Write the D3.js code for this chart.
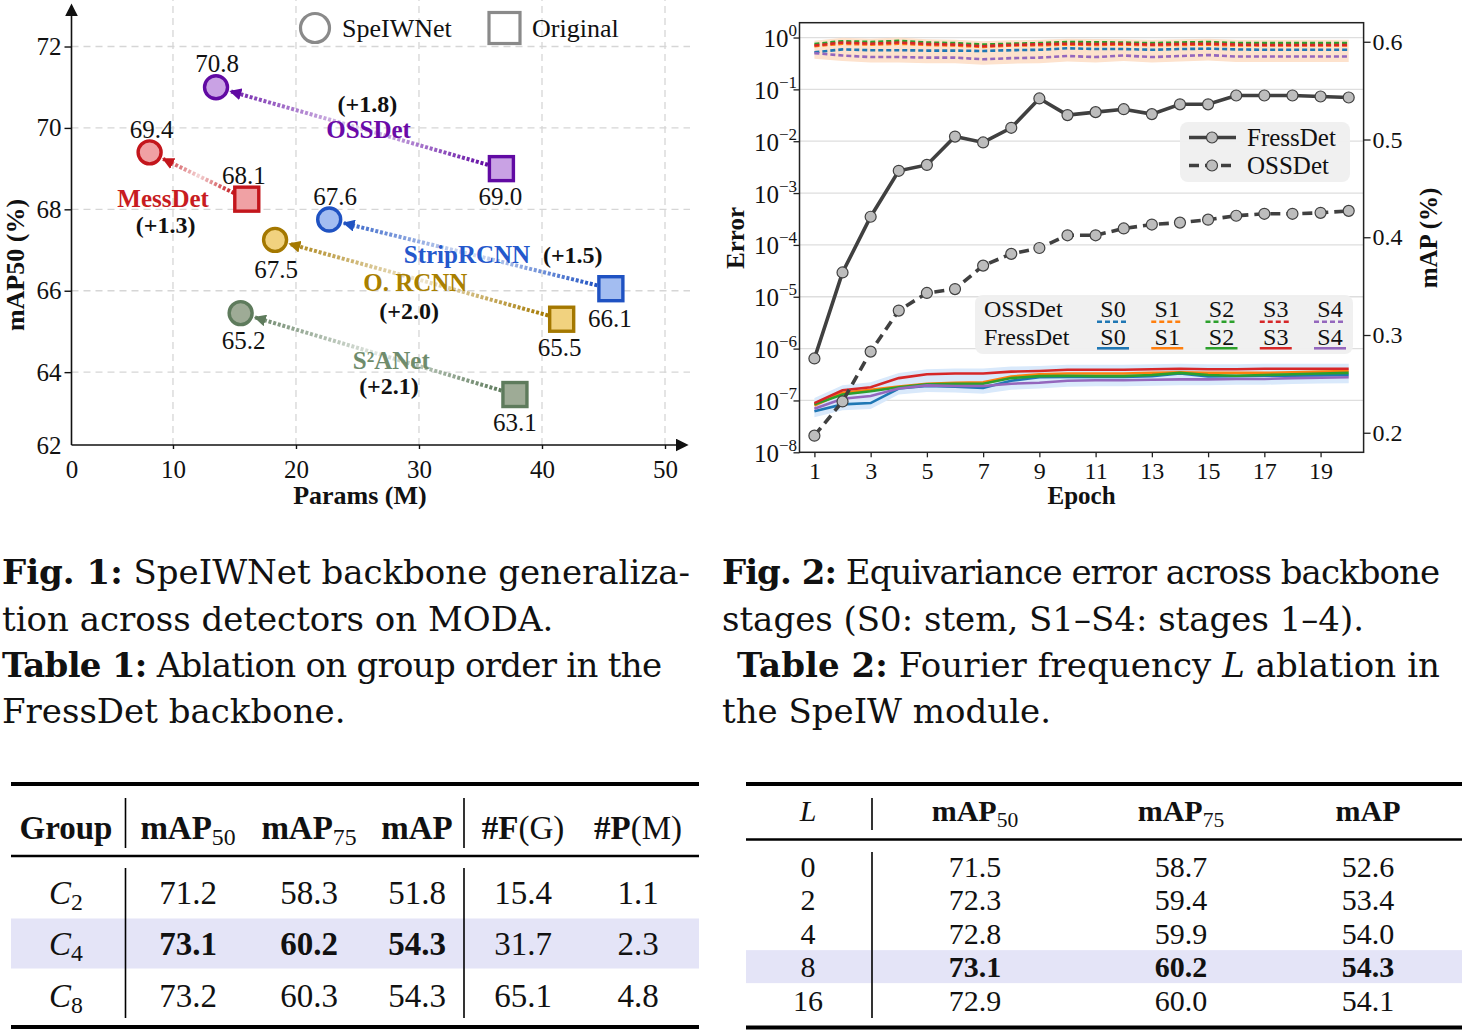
<!DOCTYPE html>
<html>
<head>
<meta charset="utf-8">
<script src="https://cdn.jsdelivr.net/npm/d3@7"></script>
<style>
  body { margin: 0; background: #fff; }
  svg text { font-family: "Liberation Serif", "Times New Roman", serif; fill: #111; }
</style>
</head>
<body>
<svg id="fig" width="1462" height="1031"></svg>
<script>
// ---------- Fig. 1 data
const detectors   = ["OSSDet", "MessDet", "StripRCNN", "O. RCNN", "S²ANet"];
const origParams  = [36.7, 16.0, 45.6, 41.6, 37.8];
const origMap     = [69.0, 68.25, 66.05, 65.3, 63.45];
const speiwParams = [13.5, 8.1, 22.7, 18.3, 15.5];
const speiwMap    = [71.0, 69.4, 67.75, 67.25, 65.45];
const origLabels  = ["69.0", "68.1", "66.1", "65.5", "63.1"];
const speiwLabels = ["70.8", "69.4", "67.6", "67.5", "65.2"];
const gains       = ["(+1.8)", "(+1.3)", "(+1.5)", "(+2.0)", "(+2.1)"];
const paramTicks  = [10, 20, 30, 40, 50];
const mapTicks    = [64, 66, 68, 70, 72];

// ---------- Fig. 2 data
const epochs = [1, 2, 3, 4, 5, 6, 7, 8, 9, 10, 11, 12, 13, 14, 15, 16, 17, 18, 19, 20];
const epochTicks = [1, 3, 5, 7, 9, 11, 13, 15, 17, 19];
const stages = ["S0", "S1", "S2", "S3", "S4"];
const ossErrS0 = [0.52, 0.59, 0.57, 0.57, 0.56, 0.56, 0.55, 0.57, 0.58, 0.62, 0.60, 0.60, 0.58, 0.60, 0.61, 0.59, 0.58, 0.58, 0.58, 0.58];
const ossErrS1 = [0.68, 0.76, 0.73, 0.76, 0.72, 0.70, 0.66, 0.70, 0.71, 0.73, 0.72, 0.73, 0.71, 0.72, 0.73, 0.70, 0.70, 0.70, 0.70, 0.70];
const ossErrS2 = [0.75, 0.85, 0.82, 0.86, 0.80, 0.78, 0.73, 0.76, 0.78, 0.82, 0.81, 0.80, 0.78, 0.80, 0.82, 0.78, 0.78, 0.78, 0.78, 0.78];
const ossErrS3 = [0.70, 0.80, 0.76, 0.80, 0.75, 0.73, 0.68, 0.72, 0.74, 0.76, 0.75, 0.76, 0.73, 0.75, 0.76, 0.73, 0.72, 0.72, 0.72, 0.72];
const ossErrS4 = [0.50, 0.45, 0.42, 0.42, 0.41, 0.41, 0.38, 0.40, 0.41, 0.44, 0.42, 0.45, 0.42, 0.44, 0.46, 0.43, 0.43, 0.43, 0.43, 0.43];
const fressErrS0 = [6.2e-8, 8.4e-8, 8.9e-8, 1.7e-7, 1.9e-7, 1.85e-7, 1.75e-7, 2.4e-7, 2.8e-7, 2.85e-7, 2.85e-7, 2.85e-7, 2.95e-7, 3.3e-7, 2.9e-7, 2.95e-7, 3.0e-7, 3.0e-7, 3.05e-7, 3.1e-7];
const fressErrS1 = [8.0e-8, 1.4e-7, 1.6e-7, 1.85e-7, 2.1e-7, 2.2e-7, 2.25e-7, 2.9e-7, 3.2e-7, 3.3e-7, 3.3e-7, 3.3e-7, 3.4e-7, 3.5e-7, 3.4e-7, 3.4e-7, 3.4e-7, 3.5e-7, 3.6e-7, 3.7e-7];
const fressErrS2 = [8.4e-8, 1.3e-7, 1.5e-7, 1.8e-7, 2.05e-7, 2.1e-7, 2.1e-7, 2.7e-7, 2.95e-7, 3.0e-7, 2.95e-7, 2.95e-7, 3.1e-7, 3.4e-7, 3.1e-7, 3.0e-7, 3.1e-7, 3.2e-7, 3.3e-7, 3.4e-7];
const fressErrS3 = [8.9e-8, 1.57e-7, 1.8e-7, 2.7e-7, 3.2e-7, 3.3e-7, 3.3e-7, 3.6e-7, 3.7e-7, 3.9e-7, 3.9e-7, 3.9e-7, 4.0e-7, 4.1e-7, 4.0e-7, 4.0e-7, 4.1e-7, 4.1e-7, 4.1e-7, 4.1e-7];
const fressErrS4 = [6.9e-8, 1.08e-7, 1.22e-7, 1.7e-7, 1.95e-7, 1.9e-7, 1.9e-7, 2.1e-7, 2.2e-7, 2.4e-7, 2.45e-7, 2.45e-7, 2.5e-7, 2.55e-7, 2.55e-7, 2.6e-7, 2.6e-7, 2.7e-7, 2.75e-7, 2.8e-7];
const fressMap = [0.276, 0.364, 0.421, 0.468, 0.474, 0.503, 0.497, 0.512, 0.542, 0.525, 0.528, 0.531, 0.526, 0.536, 0.536, 0.545, 0.545, 0.545, 0.544, 0.543];
const ossMap   = [0.197, 0.232, 0.283, 0.325, 0.343, 0.347, 0.371, 0.383, 0.389, 0.402, 0.402, 0.409, 0.413, 0.415, 0.418, 0.422, 0.424, 0.424, 0.425, 0.427];
const errExponents = [0, -1, -2, -3, -4, -5, -6, -7, -8];
const mapTicks2 = [0.2, 0.3, 0.4, 0.5, 0.6];

// ---------- Tables
const t1Groups = ["2", "4", "8"];
const t1Map50  = ["71.2", "73.1", "73.2"];
const t1Map75  = ["58.3", "60.2", "60.3"];
const t1Map    = ["51.8", "54.3", "54.3"];
const t1Flops  = ["15.4", "31.7", "65.1"];
const t1Params = ["1.1", "2.3", "4.8"];
const t1Best = 1;
const t2L      = ["0", "2", "4", "8", "16"];
const t2Map50  = ["71.5", "72.3", "72.8", "73.1", "72.9"];
const t2Map75  = ["58.7", "59.4", "59.9", "60.2", "60.0"];
const t2Map    = ["52.6", "53.4", "54.0", "54.3", "54.1"];
const t2Best = 3;

// ---------- styles / layout
const detStroke = ["#610aa3", "#c3161c", "#1f52c2", "#a47800", "#5e7b5c"];
const detFill   = ["#c9a2e4", "#f0a1a4", "#a3bdf1", "#f1d27f", "#9eab96"];
const detText   = ["#6a0aa8", "#c81c22", "#2458cc", "#a98000", "#6f8c6c"];
const stageCol  = ["#1f77b4", "#ff7f0e", "#2ca02c", "#d62728", "#9467bd"];

const svg = d3.select("#fig");
const defs = svg.append("defs");

// ===================== Fig. 1 =====================
const f1 = svg.append("g");
const x1 = d3.scaleLinear().domain([1.75, 50]).range([71.5, 665]);
const y1 = d3.scaleLinear().domain([62.21, 73.02]).range([445, 5]);

f1.selectAll("line.vg").data(paramTicks).join("line").attr("class", "vg")
  .attr("x1", d => x1(d)).attr("x2", d => x1(d)).attr("y1", y1(62.21)).attr("y2", 0)
  .attr("stroke", "#d6d6d6").attr("stroke-width", 1.3).attr("stroke-dasharray", "7,5");
f1.selectAll("line.hg").data(mapTicks).join("line").attr("class", "hg")
  .attr("x1", x1(1.75)).attr("x2", 690).attr("y1", d => y1(d)).attr("y2", d => y1(d))
  .attr("stroke", "#d6d6d6").attr("stroke-width", 1.3).attr("stroke-dasharray", "7,5");

defs.append("marker").attr("id", "axArrow").attr("viewBox", "0 0 10 10")
  .attr("refX", 8).attr("refY", 5).attr("markerWidth", 13).attr("markerHeight", 13)
  .attr("markerUnits", "userSpaceOnUse").attr("orient", "auto")
  .append("path").attr("d", "M0,0 L10,5 L0,10 z").attr("fill", "#111");

f1.append("line").attr("x1", x1(1.75)).attr("y1", y1(62.21)).attr("x2", x1(1.75)).attr("y2", 6)
  .attr("stroke", "#111").attr("stroke-width", 1.6).attr("marker-end", "url(#axArrow)");
f1.append("line").attr("x1", x1(1.75)).attr("y1", y1(62.21)).attr("x2", 686).attr("y2", y1(62.21))
  .attr("stroke", "#111").attr("stroke-width", 1.6).attr("marker-end", "url(#axArrow)");

const ax1 = f1.append("g").attr("transform", `translate(0,${y1(62.21)})`)
  .call(d3.axisBottom(x1).tickValues([1.75].concat(paramTicks)).tickSize(4).tickPadding(11)
    .tickFormat(d => d === 1.75 ? "0" : d));
const ay1 = f1.append("g").attr("transform", `translate(${x1(1.75)},0)`)
  .call(d3.axisLeft(y1).tickValues(mapTicks.concat([62.21])).tickSize(7).tickPadding(3)
    .tickFormat(d => d === 62.21 ? "62" : d));
[ax1, ay1].forEach(a => {
  a.select(".domain").remove();
  a.selectAll("line").attr("stroke", "#111").attr("stroke-width", 1.4);
  a.selectAll("text").attr("font-size", 25).attr("font-family", "Liberation Serif").attr("fill", "#111");
});
ay1.selectAll(".tick").filter(d => d === 62.21).select("line").remove();
ax1.selectAll(".tick").filter(d => d === 1.75).select("line").remove();

f1.append("text").attr("x", x1(25.2)).attr("y", 495).attr("dy", "0.35em")
  .attr("text-anchor", "middle").attr("font-size", 26).attr("font-weight", "bold").text("Params (M)");
f1.append("text").attr("transform", `translate(15,${265}) rotate(-90)`).attr("dy", "0.35em")
  .attr("text-anchor", "middle").attr("font-size", 26).attr("font-weight", "bold").text("mAP50 (%)");

// arrows from Original to SpeIWNet
detectors.forEach((d, i) => {
  const sx = x1(origParams[i]), sy = y1(origMap[i]);
  const cx = x1(speiwParams[i]), cy = y1(speiwMap[i]);
  const len = Math.hypot(cx - sx, cy - sy);
  const ux = (cx - sx) / len, uy = (cy - sy) / len;
  const ax = sx + ux * 14, ay = sy + uy * 14, bx = cx - ux * 15, by = cy - uy * 15;
  const g = defs.append("linearGradient").attr("id", "grad" + i)
    .attr("gradientUnits", "userSpaceOnUse")
    .attr("x1", ax).attr("y1", ay).attr("x2", bx).attr("y2", by);
  g.append("stop").attr("offset", 0).attr("stop-color", detStroke[i]);
  g.append("stop").attr("offset", 0.5).attr("stop-color", d3.interpolateRgb(detStroke[i], "#fff")(0.82));
  g.append("stop").attr("offset", 1).attr("stop-color", d3.interpolateRgb(detStroke[i], "#fff")(0.1));
  defs.append("marker").attr("id", "arr" + i).attr("viewBox", "0 0 10 10")
    .attr("refX", 9).attr("refY", 5).attr("markerWidth", 12).attr("markerHeight", 12)
    .attr("markerUnits", "userSpaceOnUse").attr("orient", "auto")
    .append("path").attr("d", "M0,0 L10,5 L0,10 z").attr("fill", detStroke[i]);
  f1.append("line").attr("x1", ax).attr("y1", ay).attr("x2", bx).attr("y2", by)
    .attr("stroke", `url(#grad${i})`).attr("stroke-width", 4).attr("stroke-dasharray", "3,1.8")
    .attr("marker-end", `url(#arr${i})`);
});

f1.selectAll("rect.orig").data(detectors).join("rect").attr("class", "orig")
  .attr("x", (d, i) => x1(origParams[i]) - 12).attr("y", (d, i) => y1(origMap[i]) - 12)
  .attr("width", 24).attr("height", 24)
  .attr("fill", (d, i) => detFill[i]).attr("stroke", (d, i) => detStroke[i]).attr("stroke-width", 3.4);
f1.selectAll("circle.sp").data(detectors).join("circle").attr("class", "sp")
  .attr("cx", (d, i) => x1(speiwParams[i])).attr("cy", (d, i) => y1(speiwMap[i])).attr("r", 11.5)
  .attr("fill", (d, i) => detFill[i]).attr("stroke", (d, i) => detStroke[i]).attr("stroke-width", 3.4);

// value labels (offset in px relative to markers)
const spOff = [[1, -24], [2, -23], [6, -23], [1, 29], [3, 27]];
const orOff = [[-1, 28], [-3, -24], [-1, 30], [-2, 28], [0, 28]];
f1.selectAll("text.spl").data(speiwLabels).join("text").attr("class", "spl")
  .attr("x", (d, i) => x1(speiwParams[i]) + spOff[i][0]).attr("y", (d, i) => y1(speiwMap[i]) + spOff[i][1])
  .attr("dy", "0.35em").attr("text-anchor", "middle").attr("font-size", 25).text(d => d);
f1.selectAll("text.orl").data(origLabels).join("text").attr("class", "orl")
  .attr("x", (d, i) => x1(origParams[i]) + orOff[i][0]).attr("y", (d, i) => y1(origMap[i]) + orOff[i][1])
  .attr("dy", "0.35em").attr("text-anchor", "middle").attr("font-size", 25).text(d => d);

// detector names and gains, placed in data units
const namePos = [[25.9, 69.97], [9.2, 68.28], [33.9, 66.9], [29.7, 66.2], [27.75, 64.29]];
const gainPos = [[25.8, 70.6], [9.4, 67.63], [42.5, 66.9], [29.2, 65.52], [27.56, 63.66]];
f1.selectAll("text.nm").data(detectors).join("text").attr("class", "nm")
  .attr("x", (d, i) => x1(namePos[i][0])).attr("y", (d, i) => y1(namePos[i][1])).attr("dy", "0.35em")
  .attr("text-anchor", "middle").attr("font-size", 25).attr("font-weight", "bold")
  .style("fill", (d, i) => detText[i]).text(d => d);
f1.selectAll("text.gn").data(gains).join("text").attr("class", "gn")
  .attr("x", (d, i) => x1(gainPos[i][0])).attr("y", (d, i) => y1(gainPos[i][1])).attr("dy", "0.35em")
  .attr("text-anchor", "middle").attr("font-size", 24).attr("font-weight", "bold").text(d => d);

// legend
f1.append("circle").attr("cx", 315).attr("cy", 28).attr("r", 14.5)
  .attr("fill", "#fff").attr("stroke", "#8a8a8a").attr("stroke-width", 3.2);
f1.append("text").attr("x", 342).attr("y", 28).attr("dy", "0.35em").attr("font-size", 26).text("SpeIWNet");
f1.append("rect").attr("x", 489).attr("y", 12.5).attr("width", 31).attr("height", 31)
  .attr("fill", "#fff").attr("stroke", "#8a8a8a").attr("stroke-width", 3.2);
f1.append("text").attr("x", 532).attr("y", 28).attr("dy", "0.35em").attr("font-size", 26).text("Original");

// ===================== Fig. 2 =====================
const f2 = svg.append("g");
const x2 = d3.scaleLinear().domain([0.47, 20.53]).range([799.5, 1363.6]);
const yE = d3.scaleLog().domain([1e-8, Math.pow(10, 0.286)]).range([452.3, 22.7]);
const yM = d3.scaleLinear().domain([0.18, 0.6195]).range([452.3, 22.7]);

f2.selectAll("line.eg").data(errExponents.slice(0, 8)).join("line").attr("class", "eg")
  .attr("x1", x2.range()[0]).attr("x2", x2.range()[1])
  .attr("y1", d => yE(Math.pow(10, d))).attr("y2", d => yE(Math.pow(10, d)))
  .attr("stroke", "#dedede").attr("stroke-width", 1.3);

const ossSeries = [ossErrS0, ossErrS1, ossErrS2, ossErrS3, ossErrS4];
const fressSeries = [fressErrS0, fressErrS1, fressErrS2, fressErrS3, fressErrS4];

const band = d3.area().x(d => x2(d.e)).y0(d => yE(d.lo)).y1(d => yE(d.hi));
f2.append("path")
  .datum(epochs.map((e, i) => ({ e, lo: d3.min(ossSeries, s => s[i]) / 1.28, hi: d3.max(ossSeries, s => s[i]) * 1.16 })))
  .attr("d", band).attr("fill", "#fde2cd");
f2.append("path")
  .datum(epochs.map((e, i) => ({ e, lo: d3.min(fressSeries, s => s[i]) / 1.3, hi: d3.max(fressSeries, s => s[i]) * 1.25 })))
  .attr("d", band).attr("fill", "#d9e9fb");

const errLine = d3.line().x((d, i) => x2(epochs[i])).y(d => yE(d));
fressSeries.forEach((s, k) => {
  f2.append("path").datum(s).attr("d", errLine).attr("fill", "none")
    .attr("stroke", stageCol[k]).attr("stroke-width", 2.6);
});
ossSeries.forEach((s, k) => {
  f2.append("path").datum(s).attr("d", errLine).attr("fill", "none")
    .attr("stroke", stageCol[k]).attr("stroke-width", 2.6).attr("stroke-dasharray", "5,3");
});

const mapLine = d3.line().x((d, i) => x2(epochs[i])).y(d => yM(d));
[[fressMap, null], [ossMap, "10,6"]].forEach(([s, dash]) => {
  f2.append("path").datum(s).attr("d", mapLine).attr("fill", "none")
    .attr("stroke", "#404040").attr("stroke-width", 3.6).attr("stroke-dasharray", dash);
  f2.append("g").selectAll("circle").data(s).join("circle")
    .attr("cx", (d, i) => x2(epochs[i])).attr("cy", d => yM(d)).attr("r", 5.5)
    .attr("fill", "#bdbdbd").attr("stroke", "#404040").attr("stroke-width", 1.2);
});

// frame
f2.append("rect").attr("x", x2.range()[0]).attr("y", 22.7)
  .attr("width", x2.range()[1] - x2.range()[0]).attr("height", 452.3 - 22.7)
  .attr("fill", "none").attr("stroke", "#222").attr("stroke-width", 1.5);

// axes
const axB = f2.append("g").attr("transform", "translate(0,452.3)")
  .call(d3.axisBottom(x2).tickValues(epochTicks).tickSize(5).tickPadding(5));
const axR = f2.append("g").attr("transform", `translate(${x2.range()[1]},0)`)
  .call(d3.axisRight(yM).tickValues(mapTicks2).tickSize(7).tickPadding(2).tickFormat(d3.format(".1f")));
const axL = f2.append("g").attr("transform", `translate(${x2.range()[0]},0)`)
  .call(d3.axisLeft(yE).tickValues(errExponents.map(e => Math.pow(10, e))).tickSize(6).tickFormat(""));
[axB, axR, axL].forEach(a => {
  a.select(".domain").remove();
  a.selectAll("line").attr("stroke", "#222").attr("stroke-width", 1.3);
  a.selectAll("text").attr("font-size", 24).attr("font-family", "Liberation Serif").attr("fill", "#111");
});
const errLab = f2.selectAll("text.el").data(errExponents).join("text").attr("class", "el")
  .attr("x", 797).attr("y", d => yE(Math.pow(10, d)) + 9.5).attr("text-anchor", "end").attr("font-size", 25);
errLab.append("tspan").text("10");
errLab.append("tspan").attr("dy", -11).attr("font-size", 17).text(d => d === 0 ? "0" : "−" + (-d));

f2.append("text").attr("transform", "translate(735,238) rotate(-90)").attr("dy", "0.35em")
  .attr("text-anchor", "middle").attr("font-size", 25).attr("font-weight", "bold").text("Error");
f2.append("text").attr("transform", "translate(1428,238) rotate(-90)").attr("dy", "0.35em")
  .attr("text-anchor", "middle").attr("font-size", 25).attr("font-weight", "bold").text("mAP (%)");
f2.append("text").attr("x", x2(10.5)).attr("y", 495).attr("dy", "0.35em")
  .attr("text-anchor", "middle").attr("font-size", 25).attr("font-weight", "bold").text("Epoch");

// upper legend
f2.append("rect").attr("x", 1180).attr("y", 122).attr("width", 170).attr("height", 60).attr("rx", 8)
  .attr("fill", "#efefef").attr("fill-opacity", 0.95);
[["FressDet", null, 137.5], ["OSSDet", "10,6", 165.5]].forEach(([name, dash, yy]) => {
  f2.append("line").attr("x1", 1189).attr("x2", 1236).attr("y1", yy).attr("y2", yy)
    .attr("stroke", "#404040").attr("stroke-width", 3.6).attr("stroke-dasharray", dash);
  f2.append("circle").attr("cx", 1212).attr("cy", yy).attr("r", 5.5)
    .attr("fill", "#bdbdbd").attr("stroke", "#404040").attr("stroke-width", 1.2);
  f2.append("text").attr("x", 1247).attr("y", yy).attr("dy", "0.35em").attr("font-size", 25).text(name);
});

// lower legend
f2.append("rect").attr("x", 975).attr("y", 295).attr("width", 378).attr("height", 59).attr("rx", 8)
  .attr("fill", "#efefef").attr("fill-opacity", 0.95);
const stageX = d3.scalePoint().domain(stages).range([1113, 1330]);
[["OSSDet", "5,3", 308.5, 321.7], ["FressDet", null, 336.5, 348.3]].forEach(([name, dash, ty, ly]) => {
  f2.append("text").attr("x", 984).attr("y", ty).attr("dy", "0.35em").attr("font-size", 24).text(name);
  stages.forEach((s, k) => {
    f2.append("text").attr("x", stageX(s)).attr("y", ty).attr("dy", "0.35em")
      .attr("text-anchor", "middle").attr("font-size", 24).text(s);
    f2.append("line").attr("x1", stageX(s) - 16).attr("x2", stageX(s) + 16).attr("y1", ly).attr("y2", ly)
      .attr("stroke", stageCol[k]).attr("stroke-width", 2.6).attr("stroke-dasharray", dash);
  });
});

// ===================== Captions =====================
// w: justified width for full lines, null for the last line of a paragraph
const capLines = [
  { x: 2, y: 584, w: 688, parts: [["Fig. 1:", "b"], [" SpeIWNet backbone generaliza-"]] },
  { x: 2, y: 631, w: null, parts: [["tion across detectors on MODA."]] },
  { x: 2, y: 677, w: 660, parts: [["Table 1:", "b"], [" Ablation on group order in the"]] },
  { x: 2, y: 723, w: null, parts: [["FressDet backbone."]] },
  { x: 722, y: 584, w: 718, parts: [["Fig. 2:", "b"], [" Equivariance error across backbone"]] },
  { x: 722, y: 631, w: null, parts: [["stages (S0: stem, S1–S4: stages 1–4)."]] },
  { x: 737, y: 677, w: 703, parts: [["Table 2:", "b"], [" Fourier frequency "], ["L", "i"], [" ablation in"]] },
  { x: 722, y: 723, w: null, parts: [["the SpeIW module."]] }
];
capLines.forEach(c => {
  const t = svg.append("text").attr("x", c.x).attr("y", c.y)
    .attr("font-size", 34).style("font-family", "'DejaVu Serif', serif")
    .attr("xml:space", "preserve");
  if (c.w) t.attr("textLength", c.w).attr("lengthAdjust", "spacing");
  c.parts.forEach(p => {
    const s = t.append("tspan").text(p[0]);
    if (p[1] === "b") s.attr("font-weight", "bold");
    if (p[1] === "i") s.attr("font-style", "italic");
  });
});

// ===================== Table 1 =====================
const tb1 = svg.append("g");
const t1Cols = ["g", "m50", "m75", "m", "f", "p"];
const t1X = d3.scaleOrdinal().domain(t1Cols).range([66, 188, 309, 417, 523, 638]);
const t1Y = d3.scalePoint().domain(t1Groups).range([892, 995]);

tb1.append("rect").attr("x", 11).attr("width", 688).attr("y", t1Y(t1Groups[t1Best]) - 25).attr("height", 50)
  .attr("fill", "#e4e4f7");
[[784, 4], [856, 2.4], [1027, 4]].forEach(([yy, w]) =>
  tb1.append("line").attr("x1", 11).attr("x2", 699).attr("y1", yy).attr("y2", yy)
    .attr("stroke", "#000").attr("stroke-width", w));
[125.5, 464].forEach(xx => {
  tb1.append("line").attr("x1", xx).attr("x2", xx).attr("y1", 798).attr("y2", 848).attr("stroke", "#000").attr("stroke-width", 1.6);
  tb1.append("line").attr("x1", xx).attr("x2", xx).attr("y1", 868).attr("y2", 1018).attr("stroke", "#000").attr("stroke-width", 1.6);
});

function cell(g, x, y, size, parts) {
  const t = g.append("text").attr("x", x).attr("y", y).attr("dy", "0.35em")
    .attr("text-anchor", "middle").attr("font-size", size);
  parts.forEach(p => {
    const s = t.append("tspan").text(p[0]);
    if (p[1] === "b") s.attr("font-weight", "bold");
    if (p[1] === "i") s.attr("font-style", "italic");
    if (p[1] === "sub") s.attr("font-size", size * 0.72).attr("dy", 6);
  });
  return t;
}
const h1y = 827;
cell(tb1, t1X("g"), h1y, 33, [["Group", "b"]]);
cell(tb1, t1X("m50"), h1y, 33, [["mAP", "b"], ["50", "sub"]]);
cell(tb1, t1X("m75"), h1y, 33, [["mAP", "b"], ["75", "sub"]]);
cell(tb1, t1X("m"), h1y, 33, [["mAP", "b"]]);
cell(tb1, t1X("f"), h1y, 33, [["#F", "b"], ["(G)"]]);
cell(tb1, t1X("p"), h1y, 33, [["#P", "b"], ["(M)"]]);

t1Groups.forEach((gName, r) => {
  const yy = t1Y(gName);
  cell(tb1, t1X("g"), yy, 33, [["C", "i"], [gName, "sub"]]);
  const bold = r === t1Best;
  [["m50", t1Map50], ["m75", t1Map75], ["m", t1Map]].forEach(([c, arr]) =>
    cell(tb1, t1X(c), yy, 33, [[arr[r], bold ? "b" : null]]));
  cell(tb1, t1X("f"), yy, 33, [[t1Flops[r]]]);
  cell(tb1, t1X("p"), yy, 33, [[t1Params[r]]]);
});

// ===================== Table 2 =====================
const tb2 = svg.append("g");
const t2Cols = ["L", "m50", "m75", "m"];
const t2X = d3.scaleOrdinal().domain(t2Cols).range([808, 975, 1181, 1368]);
const t2Y = d3.scalePoint().domain(t2L).range([866.5, 1000]);

tb2.append("rect").attr("x", 746).attr("width", 716).attr("y", t2Y(t2L[t2Best]) - 16.5).attr("height", 33)
  .attr("fill", "#e4e4f7");
[[784, 4], [839.5, 2.4], [1027.5, 4]].forEach(([yy, w]) =>
  tb2.append("line").attr("x1", 746).attr("x2", 1462).attr("y1", yy).attr("y2", yy)
    .attr("stroke", "#000").attr("stroke-width", w));
tb2.append("line").attr("x1", 872).attr("x2", 872).attr("y1", 798).attr("y2", 830).attr("stroke", "#000").attr("stroke-width", 1.6);
tb2.append("line").attr("x1", 872).attr("x2", 872).attr("y1", 852).attr("y2", 1018).attr("stroke", "#000").attr("stroke-width", 1.6);

const h2y = 810;
cell(tb2, t2X("L"), h2y, 30, [["L", "i"]]);
cell(tb2, t2X("m50"), h2y, 30, [["mAP", "b"], ["50", "sub"]]);
cell(tb2, t2X("m75"), h2y, 30, [["mAP", "b"], ["75", "sub"]]);
cell(tb2, t2X("m"), h2y, 30, [["mAP", "b"]]);
t2L.forEach((l, r) => {
  const yy = t2Y(l);
  const bold = r === t2Best;
  cell(tb2, t2X("L"), yy, 30, [[l]]);
  [["m50", t2Map50], ["m75", t2Map75], ["m", t2Map]].forEach(([c, arr]) =>
    cell(tb2, t2X(c), yy, 30, [[arr[r], bold ? "b" : null]]));
});
</script>
</body>
</html>
